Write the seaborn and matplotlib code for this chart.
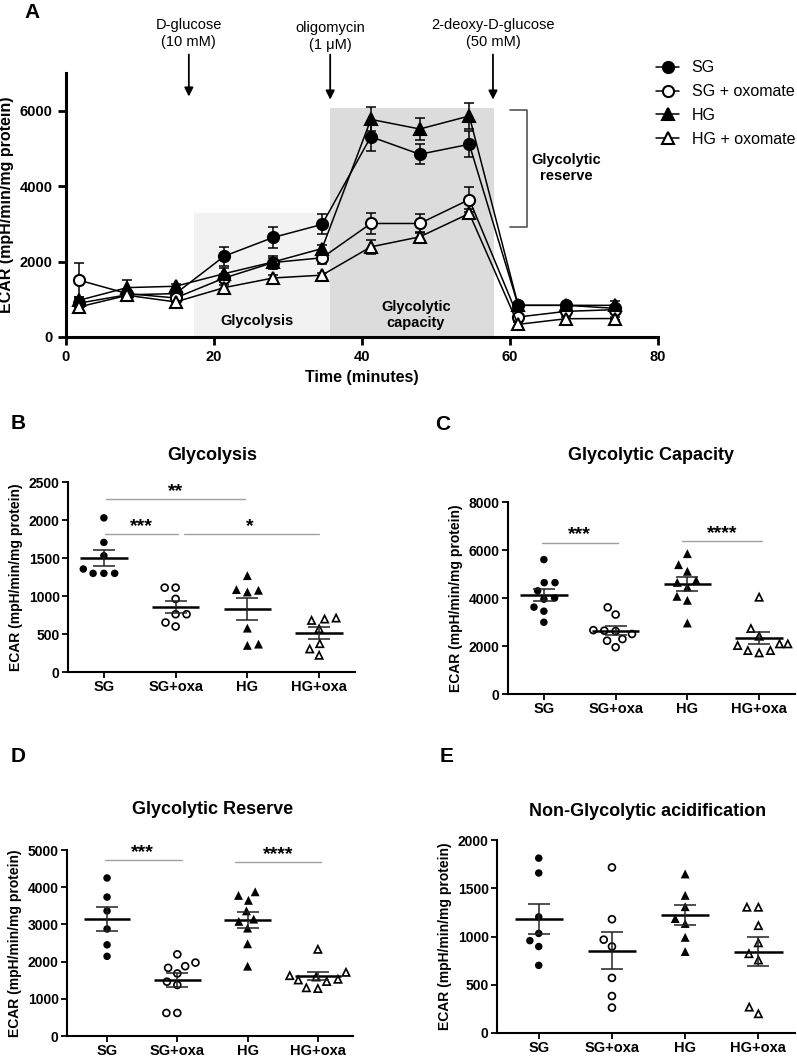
import numpy as np
import pandas as pd
import matplotlib
matplotlib.use("Agg")
import matplotlib.pyplot as plt
import seaborn as sns
from matplotlib.path import Path
from matplotlib.lines import Line2D

sns.set_theme(style="ticks")
plt.rcParams['font.family'] = ['Liberation Sans', 'DejaVu Sans']
for key in ["text.color", "axes.labelcolor", "xtick.color", "ytick.color",
            "axes.edgecolor"]:
    plt.rcParams[key] = "black"

# ---------------- data: panel A (time course, mean and SEM) ----------------
time_min = [1.8, 8.3, 14.8, 21.4, 28.0, 34.6, 41.2, 47.8, 54.5, 61.1, 67.6, 74.2]
sg_mean = [900, 1120, 1150, 2145, 2640, 2985, 5310, 4845, 5110, 840, 840, 760]
sg_sem = [110, 70, 80, 250, 280, 265, 370, 260, 340, 70, 70, 90]
sgox_mean = [1505, 1150, 1035, 1565, 1975, 2100, 3010, 3010, 3645, 530, 680, 725]
sgox_sem = [445, 90, 100, 110, 180, 160, 280, 260, 320, 70, 70, 80]
hg_mean = [975, 1310, 1345, 1680, 1990, 2345, 5770, 5515, 5860, 840, 840, 840]
hg_sem = [90, 210, 60, 150, 110, 100, 320, 285, 340, 60, 60, 110]
hgox_mean = [800, 1105, 930, 1310, 1565, 1640, 2390, 2655, 3275, 335, 485, 490]
hgox_sem = [80, 70, 70, 80, 90, 70, 180, 120, 110, 50, 50, 50]
legend_labels = ["SG", "SG + oxomate", "HG", "HG + oxomate"]

# ---------------- data: panels B-E (individual values) ----------------
categories = ["SG", "SG+oxa", "HG", "HG+oxa"]

glyco_sg = [2028, 1705, 1530, 1298, 1355, 1298, 1298]
glyco_sgoxa = [1110, 1110, 962, 760, 760, 599, 651]
glyco_hg = [1268, 1075, 1053, 1084, 577, 350, 367]
glyco_hgoxa = [704, 686, 717, 577, 380, 227, 310]

cap_sg = [5600, 4640, 4640, 4300, 4000, 3950, 3620, 3450, 2990]
cap_sgoxa = [3610, 3310, 2660, 2640, 2620, 2500, 2290, 2220, 1950]
cap_hg = [5847, 5111, 5389, 4736, 4458, 4069, 3903, 2958, 4650]
cap_hgoxa = [4056, 2750, 2430, 2111, 2111, 2042, 1833, 1833, 1736]

res_sg = [4248, 3735, 3363, 2876, 2451, 2142]
res_sgoxa = [2195, 1973, 1876, 1832, 1681, 1460, 1372, 619, 619]
res_hg = [3779, 3876, 3646, 3363, 3080, 3142, 2478, 1876, 2900]
res_hgoxa = [2345, 1726, 1637, 1540, 1520, 1600, 1480, 1290, 1310]

nongly_sg = [1812, 1658, 1203, 1032, 957, 896, 701]
nongly_sgoxa = [1716, 1179, 967, 896, 571, 383, 263]
nongly_hg = [1648, 1426, 1309, 1135, 1186, 991, 844]
nongly_hgoxa = [1309, 1309, 1118, 940, 827, 762, 205, 274]

YLABEL = "ECAR (mpH/min/mg protein)"

# ---------------- figure ----------------
W, H = 797, 1060
fig = plt.figure(figsize=(W / 100, H / 100), dpi=100)


def fig_axes(left, top, right, bottom):
    return fig.add_axes([left / W, 1 - bottom / H, (right - left) / W, (bottom - top) / H])


# ---------------- Panel A ----------------
axA = fig_axes(66, 73, 658, 337)
axA.fill_between([17.3, 35.7], 0, 3290, color="#f2f2f2", zorder=0, lw=0)
axA.fill_between([35.7, 57.8], 0, 6080, color="#dcdcdc", zorder=0, lw=0)

series = [
    (sg_mean, sg_sem, "o", "black"),
    (sgox_mean, sgox_sem, "o", "white"),
    (hg_mean, hg_sem, "^", "black"),
    (hgox_mean, hgox_sem, "^", "white"),
]
for vals, errs, mk, fc in series:
    axA.errorbar(time_min, vals, yerr=errs, fmt="none", ecolor="black",
                 elinewidth=1.1, capsize=3.5, capthick=1.1, zorder=2)
    sns.lineplot(x=time_min, y=vals, ax=axA, color="black", linewidth=1.1,
                 marker=mk, markersize=8, markerfacecolor=fc,
                 markeredgecolor="black", markeredgewidth=1.5,
                 estimator=None, sort=False, legend=False, zorder=3)

axA.set_xlim(0, 80)
axA.set_ylim(0, 7000)
axA.set_xticks([0, 20, 40, 60, 80])
axA.set_yticks([0, 2000, 4000, 6000])
for s in ["top", "right"]:
    axA.spines[s].set_visible(False)
for s in ["left", "bottom"]:
    axA.spines[s].set_linewidth(2.2)
axA.tick_params(width=2, length=6, labelsize=10.5, colors="black")
for lab in axA.get_xticklabels() + axA.get_yticklabels():
    lab.set_fontweight("bold")
axA.set_xlabel("Time (minutes)", fontsize=11.5, fontweight="bold")
axA.set_ylabel(YLABEL, fontsize=11.5, fontweight="bold")

# injections
injections = [(16.6, 6375, "D-glucose\n(10 mM)", 8050),
              (35.7, 6295, "oligomycin\n(1 \u03bcM)", 7970),
              (57.7, 6295, "2-deoxy-D-glucose\n(50 mM)", 8050)]
for x, yend, label, ytxt in injections:
    axA.annotate("", xy=(x, yend), xytext=(x, 7490),
                 arrowprops=dict(arrowstyle="-|>", color="black", lw=1.3,
                                 mutation_scale=13, shrinkA=0, shrinkB=0),
                 annotation_clip=False)
    axA.text(x, ytxt, label, ha="center", va="center", fontsize=10.5,
             linespacing=1.25, clip_on=False)

axA.text(25.8, 425, "Glycolysis", ha="center", va="center", fontsize=10.5,
         fontweight="bold")
axA.text(47.3, 584, "Glycolytic\ncapacity", ha="center", va="center",
         fontsize=10.5, fontweight="bold", linespacing=1.2)
axA.plot([60, 62.3, 62.3, 60], [6030, 6030, 2920, 2920], color="#555555",
         lw=1.2, clip_on=False)
axA.text(67.6, 4490, "Glycolytic\nreserve", ha="center", va="center",
         fontsize=10.5, fontweight="bold", linespacing=1.2, clip_on=False)

handles = [Line2D([], [], color="black", lw=1.1, marker=mk, markersize=8,
                  markerfacecolor=fc, markeredgecolor="black", markeredgewidth=1.5)
           for _, _, mk, fc in series]
fig.legend(handles, legend_labels, loc="upper left",
           bbox_to_anchor=(650 / W, 1 - 54 / H), frameon=False, fontsize=11.5,
           handlelength=1.4, handletextpad=0.8, labelspacing=0.55,
           borderaxespad=0, borderpad=0.4)


# ---------------- marker shapes for dot plots ----------------
def make_ring(outer, inner):
    inner = inner[::-1]
    verts = np.concatenate([outer, outer[:1], inner, inner[:1]])
    codes = ([Path.MOVETO] + [Path.LINETO] * (len(outer) - 1) + [Path.CLOSEPOLY] +
             [Path.MOVETO] + [Path.LINETO] * (len(inner) - 1) + [Path.CLOSEPOLY])
    return Path(verts, codes)


th = np.linspace(0, 2 * np.pi, 65)[:-1]
circ = np.column_stack([np.cos(th), np.sin(th)])
ring_circle = make_ring(circ, 0.6 * circ)
tri = np.array([[0.0, 1.0], [-1.0, -1.0], [1.0, -1.0]])
cen = np.array([0.0, -0.382])
ring_tri = make_ring(tri, cen + 0.45 * (tri - cen))

marker_styles = [("o", 5.4, 2.0), (ring_circle, 6.2, 1.3),
                 ("^", 6.4, 1.3), (ring_tri, 7.2, 0.7)]


def dot_panel(ax, groups, ylim, yticks, xlim, sigs):
    for cat, vals, (mk, sz, lw) in zip(categories, groups, marker_styles):
        df = pd.DataFrame({"group": [cat] * len(vals), "value": vals})
        sns.swarmplot(data=df, x="group", y="value", order=categories, ax=ax,
                      marker=mk, size=sz, color="black", edgecolor="none",
                      linewidth=lw, warn_thresh=1, zorder=3)
    for i, vals in enumerate(groups):
        m = np.mean(vals)
        se = np.std(vals, ddof=1) / np.sqrt(len(vals))
        ax.hlines(m, i - 0.33, i + 0.33, color="black", lw=1.8, zorder=4)
        ax.errorbar(i, m, yerr=se, fmt="none", ecolor="#222222", elinewidth=1.1,
                    capsize=8, capthick=1.1, zorder=4)
    for text, x0, x1, yl, xt, yt in sigs:
        ax.plot([x0, x1], [yl, yl], color="#a0a0a0", lw=1.0, zorder=2,
                clip_on=False)
        ax.text(xt, yt, text, ha="center", va="center", fontsize=14,
                fontweight="bold", clip_on=False)
    ax.set_xlim(*xlim)
    ax.set_ylim(*ylim)
    ax.set_yticks(yticks)
    ax.set_xlabel("")
    ax.set_ylabel(YLABEL, fontsize=10, fontweight="bold")
    for s in ["top", "right"]:
        ax.spines[s].set_visible(False)
    for s in ["left", "bottom"]:
        ax.spines[s].set_linewidth(1.5)
    ax.tick_params(width=1.3, length=4, colors="black")
    ax.tick_params(axis="y", labelsize=10, pad=2)
    ax.tick_params(axis="x", labelsize=10.5, pad=2)
    for lab in ax.get_xticklabels() + ax.get_yticklabels():
        lab.set_fontweight("bold")


axB = fig_axes(68, 482, 355, 672)
dot_panel(axB, [glyco_sg, glyco_sgoxa, glyco_hg, glyco_hgoxa], (0, 2500),
          [0, 500, 1000, 1500, 2000, 2500], (-0.5, 3.5),
          [("**", 0.03, 1.97, 2281, 1.0, 2370),
           ("***", 0.02, 1.03, 1822, 0.53, 1910),
           ("*", 1.12, 3.0, 1822, 2.04, 1910)])

axC = fig_axes(508, 502, 795, 694)
dot_panel(axC, [cap_sg, cap_sgoxa, cap_hg, cap_hgoxa], (0, 8000),
          [0, 2000, 4000, 6000, 8000], (-0.5, 3.5),
          [("***", -0.03, 1.03, 6292, 0.5, 6650),
           ("****", 1.93, 3.04, 6361, 2.48, 6700)])

axD = fig_axes(67, 850, 353, 1036)
dot_panel(axD, [res_sg, res_sgoxa, res_hg, res_hgoxa], (0, 5000),
          [0, 1000, 2000, 3000, 4000, 5000], (-0.57, 3.5),
          [("***", -0.03, 1.06, 4735, 0.51, 4930),
           ("****", 1.82, 3.05, 4690, 2.43, 4890)])

axE = fig_axes(497, 840, 795, 1033)
dot_panel(axE, [nongly_sg, nongly_sgoxa, nongly_hg, nongly_hgoxa], (0, 2000),
          [0, 500, 1000, 1500, 2000], (-0.57, 3.5), [])

# titles and panel letters
titles = [(212, 455, "Glycolysis"), (651, 455, "Glycolytic Capacity"),
          (213, 810, "Glycolytic Reserve"), (648, 812, "Non-Glycolytic acidification")]
for x, y, t in titles:
    fig.text(x / W, 1 - y / H, t, ha="center", va="center", fontsize=13,
             fontweight="bold")
letters = [(32, 12, "A"), (18, 423, "B"), (443, 425, "C"), (18, 757, "D"),
           (447, 757, "E")]
for x, y, t in letters:
    fig.text(x / W, 1 - y / H, t, ha="center", va="center", fontsize=15,
             fontweight="bold")

fig.savefig("out.png", dpi=100)
